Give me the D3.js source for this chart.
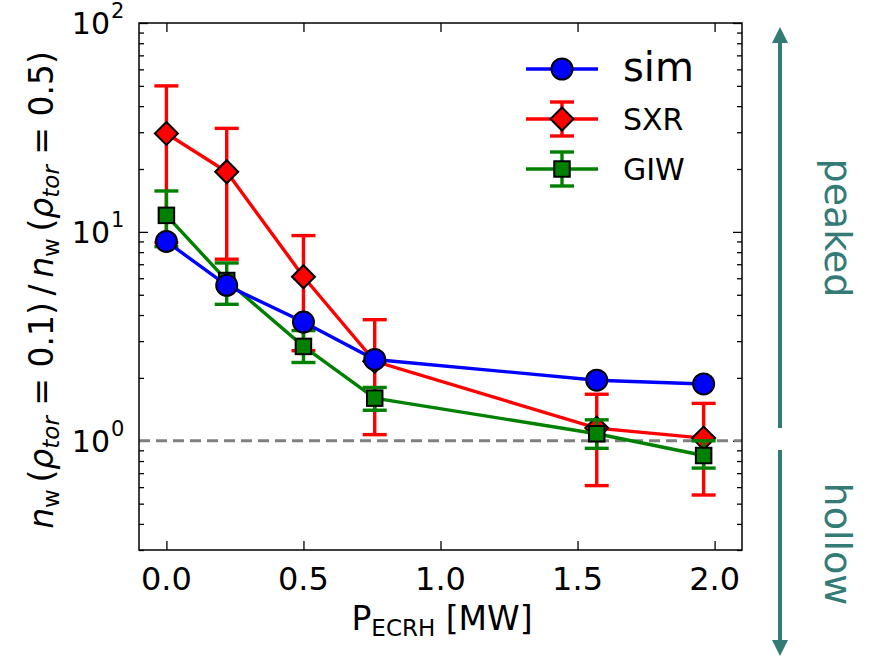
<!DOCTYPE html>
<html><head><meta charset="utf-8">
<script src="https://cdn.jsdelivr.net/npm/d3@7"></script>
<style>body{margin:0;background:#fff}svg{display:block;font-family:"DejaVu Sans",sans-serif}</style>
</head><body><svg id="c" width="876" height="657"></svg>
<script>
const power = [0, 0.22, 0.5, 0.76, 1.57, 1.96];
const simVals = [9.0, 5.55, 3.7, 2.45, 1.95, 1.87];
const sxrVals = [29.6, 19.4, 6.1, 2.4, 1.15, 1.03];
const sxrLo = [8.9, 7.4, 2.7, 1.07, 0.61, 0.55];
const sxrHi = [50, 31.3, 9.6, 3.8, 1.67, 1.51];
const giwVals = [12.0, 5.85, 2.83, 1.6, 1.08, 0.85];
const giwLo = [8.5, 4.5, 2.37, 1.4, 0.92, 0.74];
const giwHi = [15.7, 7.1, 3.37, 1.8, 1.26, 1.0];
const xTicks = [0, 0.5, 1.0, 1.5, 2.0];
const yTicks = [1, 10, 100];
const yExps = ["0", "1", "2"];
const seriesNames = ["sim", "SXR", "GIW"];

const svg = d3.select("#c");
const L = 139, R = 742, T = 23, B = 550;
const x = d3.scaleLinear().domain([-0.1, 2.1]).range([L, R]);
const y = d3.scaleLog().domain([0.3, 100]).range([B, T]);
const LW = 3.4;

// minor ticks
const minor = [];
[0.1, 1, 10].forEach(d => { for (let k = 2; k <= 9; k++) { const v = d * k; if (v >= 0.3 && v <= 100) minor.push(v); } });
const g = svg.append("g");
g.append("g").attr("transform", `translate(${L},0)`)
  .call(d3.axisRight(y).tickValues(yTicks).tickSize(9).tickFormat(""));
g.append("g").attr("transform", `translate(${L},0)`)
  .call(d3.axisRight(y).tickValues(minor).tickSize(5).tickFormat(""));
g.append("g").attr("transform", `translate(${R},0)`)
  .call(d3.axisLeft(y).tickValues(yTicks).tickSize(9).tickFormat(""));
g.append("g").attr("transform", `translate(${R},0)`)
  .call(d3.axisLeft(y).tickValues(minor).tickSize(5).tickFormat(""));
g.append("g").attr("transform", `translate(0,${B})`)
  .call(d3.axisTop(x).tickValues(xTicks).tickSize(9).tickFormat(""));
g.append("g").attr("transform", `translate(0,${T})`)
  .call(d3.axisBottom(x).tickValues(xTicks).tickSize(9).tickFormat(""));
g.selectAll(".domain").remove();
g.selectAll(".tick line").attr("stroke", "#000").attr("stroke-width", 1.3);

// x tick labels
svg.append("g").selectAll("text").data(xTicks).join("text")
  .attr("x", d => x(d)).attr("y", B + 40).attr("text-anchor", "middle")
  .attr("font-size", 32).text(d => d.toFixed(1));
// y tick labels
svg.append("g").selectAll("text").data(yTicks).join("text")
  .attr("x", L - 29).attr("y", d => y(d) + 11).attr("text-anchor", "end").attr("font-size", 30).text("10");
svg.append("g").selectAll("text").data(yTicks).join("text")
  .attr("x", L - 28).attr("y", d => y(d) - 5).attr("text-anchor", "start").attr("font-size", 21)
  .text((d, i) => yExps[i]);

// axis labels
const xl = svg.append("text").attr("x", 442).attr("y", 630).attr("text-anchor", "middle").attr("font-size", 33);
xl.append("tspan").text("P");
xl.append("tspan").attr("font-size", 23).attr("dy", 6).text("ECRH");
xl.append("tspan").attr("dy", -6).text(" [MW]");

const yLab = svg.append("text").attr("transform", "translate(53,290) rotate(-90)").attr("text-anchor", "middle").attr("font-size", 33);
function nw(t) {
  t.append("tspan").attr("font-style", "italic").text("n");
  t.append("tspan").attr("font-size", 23).attr("dy", 6).text("w");
  t.append("tspan").attr("dy", -6).text("\u2009(");
  t.append("tspan").attr("font-style", "italic").text("ρ");
  t.append("tspan").attr("font-size", 23).attr("dy", 6).attr("font-style", "italic").text("tor");
}
nw(yLab); yLab.append("tspan").attr("dy", -6).text(" = 0.1)\u2009/\u2009");
nw(yLab); yLab.append("tspan").attr("dy", -6).text(" = 0.5)");

// dashed reference
svg.append("line").attr("x1", L).attr("x2", R).attr("y1", y(1)).attr("y2", y(1))
  .attr("stroke", "#808080").attr("stroke-width", 3).attr("stroke-dasharray", "11,6");

const line = d3.line().x(d => x(d[0])).y(d => y(d[1]));
const cap = 12;
function errbars(vals, lo, hi, col) {
  const eg = svg.append("g").attr("stroke", col).attr("stroke-width", LW);
  power.forEach((p, i) => {
    eg.append("line").attr("x1", x(p)).attr("x2", x(p)).attr("y1", y(lo[i])).attr("y2", y(hi[i]));
    [lo[i], hi[i]].forEach(v => eg.append("line").attr("x1", x(p) - cap).attr("x2", x(p) + cap).attr("y1", y(v)).attr("y2", y(v)));
  });
}
const DR = 11.5, SQ = 15.5, CR = 10.5;
const diamond = (cx, cy, r) => `M${cx},${cy - r}L${cx + r},${cy}L${cx},${cy + r}L${cx - r},${cy}Z`;
// SXR
errbars(sxrVals, sxrLo, sxrHi, "#ff0000");
svg.append("path").datum(power.map((p, i) => [p, sxrVals[i]])).attr("d", line).attr("fill", "none").attr("stroke", "#ff0000").attr("stroke-width", LW);
svg.append("g").selectAll("path").data(power).join("path")
  .attr("d", (p, i) => diamond(x(p), y(sxrVals[i]), DR)).attr("fill", "#ff0000").attr("stroke", "#000").attr("stroke-width", 2);
// GIW
errbars(giwVals, giwLo, giwHi, "#008000");
svg.append("path").datum(power.map((p, i) => [p, giwVals[i]])).attr("d", line).attr("fill", "none").attr("stroke", "#008000").attr("stroke-width", LW);
svg.append("g").selectAll("rect").data(power).join("rect")
  .attr("x", p => x(p) - SQ / 2).attr("y", (p, i) => y(giwVals[i]) - SQ / 2).attr("width", SQ).attr("height", SQ)
  .attr("fill", "#008000").attr("stroke", "#000").attr("stroke-width", 2);
// sim
svg.append("path").datum(power.map((p, i) => [p, simVals[i]])).attr("d", line).attr("fill", "none").attr("stroke", "#0000ff").attr("stroke-width", LW);
svg.append("g").selectAll("circle").data(power).join("circle")
  .attr("cx", p => x(p)).attr("cy", (p, i) => y(simVals[i])).attr("r", CR)
  .attr("fill", "#0000ff").attr("stroke", "#000").attr("stroke-width", 2);

// frame
svg.append("rect").attr("x", L).attr("y", T).attr("width", R - L).attr("height", B - T)
  .attr("fill", "none").attr("stroke", "#000").attr("stroke-width", 1.5);

// legend
const lg = svg.append("g");
const lx0 = 526, lx1 = 598, lmx = 562, ltx = 623;
const ly = [69, 119, 169];
const cols = ["#0000ff", "#ff0000", "#008000"];
ly.forEach((yy, i) => {
  lg.append("line").attr("x1", lx0).attr("x2", lx1).attr("y1", yy).attr("y2", yy).attr("stroke", cols[i]).attr("stroke-width", LW);
  if (i > 0) {
    lg.append("line").attr("x1", lmx).attr("x2", lmx).attr("y1", yy - 17).attr("y2", yy + 17).attr("stroke", cols[i]).attr("stroke-width", LW);
    [-17, 17].forEach(o => lg.append("line").attr("x1", lmx - cap).attr("x2", lmx + cap).attr("y1", yy + o).attr("y2", yy + o).attr("stroke", cols[i]).attr("stroke-width", LW));
  }
});
lg.append("circle").attr("cx", lmx).attr("cy", ly[0]).attr("r", CR).attr("fill", "#0000ff").attr("stroke", "#000").attr("stroke-width", 2);
lg.append("path").attr("d", diamond(lmx, ly[1], DR)).attr("fill", "#ff0000").attr("stroke", "#000").attr("stroke-width", 2);
lg.append("rect").attr("x", lmx - SQ / 2).attr("y", ly[2] - SQ / 2).attr("width", SQ).attr("height", SQ).attr("fill", "#008000").attr("stroke", "#000").attr("stroke-width", 2);
lg.selectAll("text").data(seriesNames).join("text")
  .attr("x", ltx).attr("y", (d, i) => ly[i] + (i === 0 ? 12 : 11))
  .attr("font-size", (d, i) => i === 0 ? 40 : 30).text(d => d);

// peaked / hollow annotation
const teal = "#347b76";
svg.append("defs").html(`<marker id="ah" viewBox="0 0 10 10" refX="5" refY="5" markerWidth="4" markerHeight="4" orient="auto-start-reverse"><path d="M0,0L10,5L0,10Z" fill="${teal}"/></marker>`);
svg.append("line").attr("x1", 780).attr("x2", 780).attr("y1", 428).attr("y2", 35)
  .attr("stroke", teal).attr("stroke-width", 4).attr("marker-end", "url(#ah)");
svg.append("line").attr("x1", 780).attr("x2", 780).attr("y1", 450).attr("y2", 648)
  .attr("stroke", teal).attr("stroke-width", 4).attr("marker-end", "url(#ah)");
svg.append("text").attr("transform", "translate(825,228) rotate(90)").attr("text-anchor", "middle")
  .attr("font-size", 38).attr("fill", teal).text("peaked");
svg.append("text").attr("transform", "translate(825,544) rotate(90)").attr("text-anchor", "middle")
  .attr("font-size", 38).attr("fill", teal).text("hollow");
</script></body></html>
